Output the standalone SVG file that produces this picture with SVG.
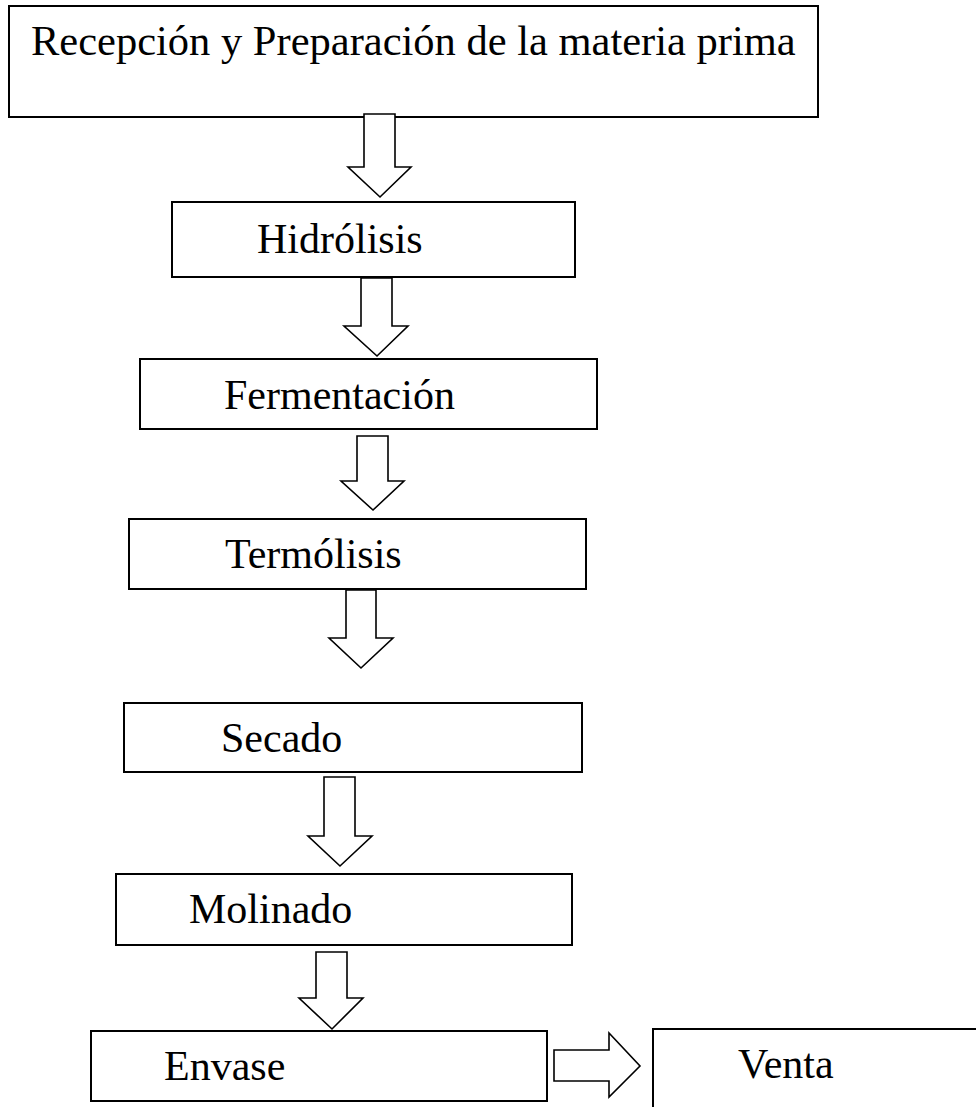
<svg xmlns="http://www.w3.org/2000/svg" width="976" height="1107" viewBox="0 0 976 1107">
<style>
.box{fill:#fff;stroke:#000;stroke-width:2}
.arr{fill:#fff;stroke:#000;stroke-width:1.6;stroke-linejoin:miter}
text{font-family:"Liberation Serif","Times New Roman",serif;font-size:42px;fill:#000}
</style>
<rect width="976" height="1107" fill="#fff"/>
<g id="n1"><rect class="box" x="9" y="6" width="809" height="111"/><text x="31" y="55" style="font-size:42.5px">Recepción y Preparación de la materia prima</text></g>
<g id="n2"><rect class="box" x="172" y="202" width="403" height="75"/><text x="257" y="253">Hidrólisis</text></g>
<g id="n3"><rect class="box" x="140" y="359" width="457" height="70"/><text x="224" y="409">Fermentación</text></g>
<g id="n4"><rect class="box" x="129" y="519" width="457" height="70"/><text x="225" y="568">Termólisis</text></g>
<g id="n5"><rect class="box" x="124" y="703" width="458" height="69"/><text x="221" y="752">Secado</text></g>
<g id="n6"><rect class="box" x="116" y="874" width="456" height="71"/><text x="189" y="923">Molinado</text></g>
<g id="n7"><rect class="box" x="91" y="1031" width="456" height="70"/><text x="164" y="1080">Envase</text></g>
<g id="n8"><rect class="box" x="653" y="1029" width="400" height="120"/><text x="738" y="1078">Venta</text></g>
<g id="connectors">
<polygon class="arr" points="364,114 395,114 395,167 411,167 380,197 348,167 364,167"/>
<polygon class="arr" points="361,278 392,278 392,326 408,326 377,356 344,326 361,326"/>
<polygon class="arr" points="357,436 388,436 388,481 404,481 373,510 341,481 357,481"/>
<polygon class="arr" points="346,590 376,590 376,638 393,638 361,668 329,638 346,638"/>
<polygon class="arr" points="324,777 355,777 355,836 372,836 340,866 308,836 324,836"/>
<polygon class="arr" points="316,952 347,952 347,998 363,998 332,1029 299,998 316,998"/>
<polygon class="arr" points="554,1050 609,1050 609,1033 640,1066 609,1097 609,1081 554,1081"/>
</g>
</svg>
